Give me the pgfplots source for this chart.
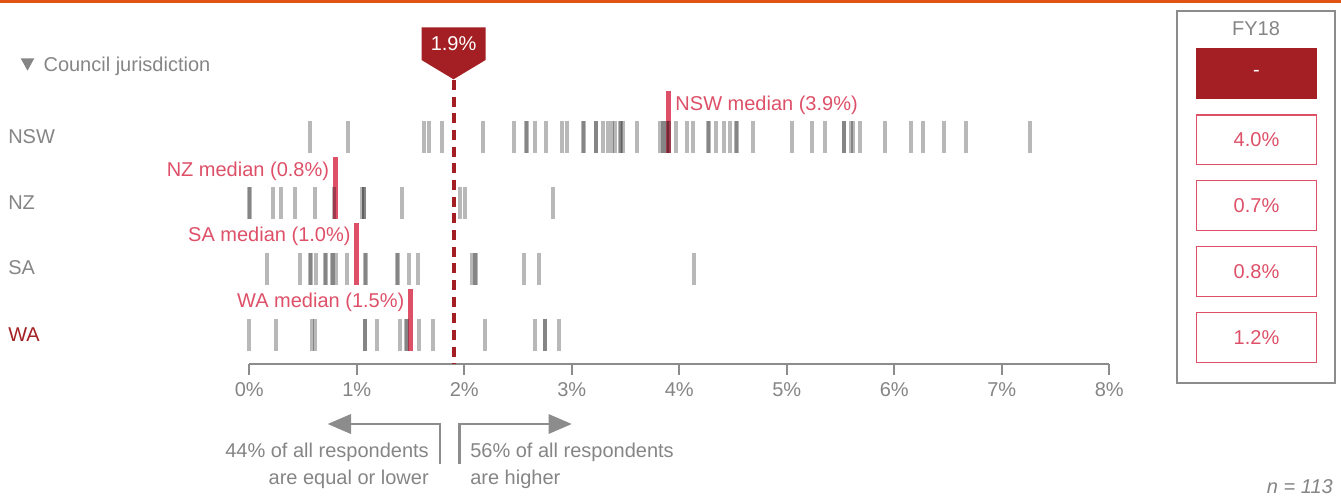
\documentclass[border=0pt]{standalone}
\usepackage{pgfplots}
\pgfplotsset{compat=1.18}
\usepackage{fontspec}
\setmainfont{Liberation Sans}

\definecolor{medpink}{RGB}{221,80,104}
\definecolor{darkred}{RGB}{163,31,35}
\definecolor{txtgray}{RGB}{133,133,133}
\definecolor{axgray}{RGB}{140,140,140}
\definecolor{topline}{RGB}{224,85,20}

\begin{document}
\begin{tikzpicture}[font=\fontsize{15}{18}\selectfont, every node/.style={inner sep=0pt}]
% page layout in pixel units (0.75pt each), origin top left, y pointing down
\begin{scope}[x=0.75pt,y=-0.75pt]
  \path (0,0) rectangle (1341,497);
  \fill[topline] (0,0) rectangle (1341,2.5);
  % section heading
  \fill[txtgray] (20.7,58.3) -- (34.3,58.3) -- (27.5,70.7) -- cycle;
  \node[anchor=base west, text=txtgray] at (43.3,71.5) {Council jurisdiction};
  % row names
  \node[anchor=west, text=txtgray] at (8,137) {NSW};
  \node[anchor=west, text=txtgray] at (8,202.5) {NZ};
  \node[anchor=west, text=txtgray] at (8,268) {SA};
  \node[anchor=west, text=darkred] at (8,334.5) {WA};
  % FY18 comparison panel
  \draw[axgray, line width=1.3pt] (1176.7,11) rectangle (1334.7,383.3);
  \node[text=txtgray] at (1256,29) {FY18};
  \fill[darkred] (1195.7,48.3) rectangle (1317.3,99.3);
  \node[text=white] at (1256.5,73.8) {-};
  \foreach \ya/\yb/\t in {115/164.7/4.0\%, 180.7/230.7/0.7\%, 246.7/296.7/0.8\%, 312.3/362.7/1.2\%}{
    \draw[medpink, line width=1.1pt] (1196.3,\ya) rectangle (1316.7,\yb);
    \node[text=medpink] at (1256.5,{(\ya+\yb)/2}) {\t};
  }
  % share of respondents either side of the overall median
  \draw[axgray, line width=2pt] (440,464) -- (440,424) -- (350,424);
  \fill[axgray] (327.7,424) -- (351,414) -- (351,434) -- cycle;
  \draw[axgray, line width=2pt] (459.7,464) -- (459.7,424) -- (549,424);
  \fill[axgray] (571.7,424) -- (548.5,414) -- (548.5,434) -- cycle;
  \node[anchor=east, text=txtgray] at (429,452) {44\% of all respondents};
  \node[anchor=east, text=txtgray] at (429,479) {are equal or lower};
  \node[anchor=west, text=txtgray] at (470,452) {56\% of all respondents};
  \node[anchor=west, text=txtgray] at (470,479) {are higher};
  \node[anchor=east, text=txtgray, font=\fontsize{15}{18}\selectfont\itshape] at (1333,487) {n = 113};
\end{scope}

\begin{axis}[
  at={(186.975pt,-273pt)}, anchor=south west,
  x=80.625pt, y=49.35pt,
  xmin=0, xmax=8, ymin=0.552, ymax=5.7,
  axis x line*=bottom, axis y line=none,
  clip=false,
  xtick={0,1,2,3,4,5,6,7,8},
  xticklabels={0\%,1\%,2\%,3\%,4\%,5\%,6\%,7\%,8\%},
  /pgf/number format/assume math mode=true,
  tick align=outside, major tick length=8pt,
  x axis line style={axgray, line width=1.5pt, -},
  every tick/.style={axgray, line width=1.5pt},
  xticklabel style={text=txtgray, yshift=-6pt},
  rowticks/.style={only marks, mark=|, mark size=12pt,
    mark options={draw=black, opacity=0.28, line width=3pt}},
]
% individual respondents, one row per jurisdiction
\addplot[rowticks] coordinates {
 (0.565,4) (0.921,4) (1.625,4) (1.668,4) (1.793,4) (2.177,4) (2.462,4) (2.574,4)
 (2.584,4) (2.661,4) (2.760,4) (2.909,4) (2.953,4) (3.103,4) (3.111,4) (3.221,4)
 (3.229,4) (3.287,4) (3.337,4) (3.371,4) (3.402,4) (3.445,4) (3.453,4) (3.473,4)
 (3.604,4) (3.820,4) (3.845,4) (3.862,4) (3.890,4) (3.900,4) (3.969,4) (4.069,4)
 (4.125,4) (4.265,4) (4.275,4) (4.341,4) (4.416,4) (4.472,4) (4.530,4) (4.538,4)
 (4.688,4) (5.045,4) (5.232,4) (5.355,4) (5.528,4) (5.536,4) (5.594,4) (5.619,4)
 (5.681,4) (5.914,4) (6.153,4) (6.264,4) (6.463,4) (6.670,4) (7.262,4)};
\addplot[rowticks] coordinates {
 (0.000,3) (0.004,3) (0.217,3) (0.292,3) (0.425,3) (0.611,3) (0.788,3) (1.045,3)
 (1.063,3) (1.070,3) (1.423,3) (1.960,3) (2.006,3) (2.828,3)};
\addplot[rowticks] coordinates {
 (0.165,2) (0.472,2) (0.560,2) (0.570,2) (0.620,2) (0.708,2) (0.718,2) (0.772,2)
 (0.780,2) (0.807,2) (0.906,2) (1.080,2) (1.090,2) (1.372,2) (1.382,2) (1.488,2)
 (1.566,2) (2.074,2) (2.097,2) (2.105,2) (2.558,2) (2.692,2) (4.138,2)};
\addplot[rowticks] coordinates {
 (0.000,1) (0.248,1) (0.580,1) (0.611,1) (1.072,1) (1.080,1) (1.185,1) (1.402,1)
 (1.455,1) (1.467,1) (1.581,1) (1.706,1) (2.193,1) (2.658,1) (2.747,1) (2.755,1)
 (2.881,1)};

% jurisdiction medians
\addplot[medpink, line width=3.75pt] coordinates {(3.9,3.757) (3.9,4.699)};
\addplot[medpink, line width=3.75pt] coordinates {(0.8,2.757) (0.8,3.699)};
\addplot[medpink, line width=3.75pt] coordinates {(1.0,1.757) (1.0,2.699)};
\addplot[medpink, line width=3.75pt] coordinates {(1.5,0.757) (1.5,1.699)};
\node[anchor=west, text=medpink, xshift=5pt] at (axis cs:3.9,4.486) {NSW median (3.9\%)};
\node[anchor=east, text=medpink, xshift=-4.5pt] at (axis cs:0.8,3.486) {NZ median (0.8\%)};
\node[anchor=east, text=medpink, xshift=-4.5pt] at (axis cs:1.0,2.486) {SA median (1.0\%)};
\node[anchor=east, text=medpink, xshift=-4.5pt] at (axis cs:1.5,1.486) {WA median (1.5\%)};

% overall median
\addplot[darkred, line width=3pt, dash pattern=on 7.5pt off 5pt] coordinates {(1.9,4.868) (1.9,0.552)};
\fill[darkred] (axis cs:1.6023,5.669) -- (axis cs:2.1977,5.669) -- (axis cs:2.1977,5.172)
  -- (axis cs:1.9,4.879) -- (axis cs:1.6023,5.172) -- cycle;
\node[text=white] at (axis cs:1.9,5.42) {1.9\%};
\end{axis}
\end{tikzpicture}
\end{document}
